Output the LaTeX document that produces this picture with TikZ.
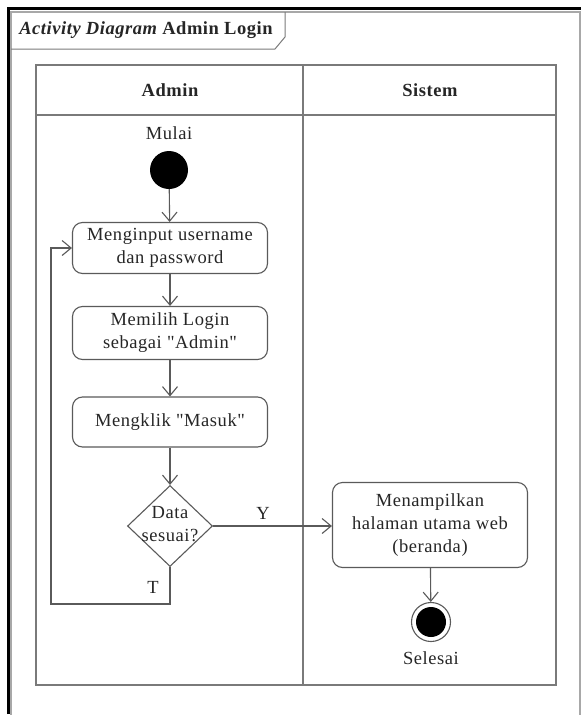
\documentclass[tikz,border=0pt]{standalone}
\usepackage{fontspec}
\setmainfont{Liberation Serif}[Ligatures=TeXOff, LetterSpace=3]
\usetikzlibrary{arrows.meta,shapes.geometric,calc}
\definecolor{linegray}{HTML}{5A5A5A}
\definecolor{lanegray}{HTML}{7A7A7A}
\definecolor{framegray}{HTML}{A8A8A8}
\tikzset{
  x=1pt, y=-1pt,
  every node/.style={font=\fontsize{18.5}{23}\selectfont, text=black!85},
  actbox/.style={draw=linegray, line width=1.1pt, rounded corners=10pt, fill=white,
    minimum width=195pt, align=center, inner sep=2pt},
  flow/.style={draw=linegray, line width=1.1pt, -{Straight Barb[length=9pt,width=15pt]}},
  lbl/.style={inner sep=0pt}
}
\begin{document}
\begin{tikzpicture}
\useasboundingbox (0,0) rectangle (581,715);
\fill[white] (0,0) rectangle (581,715);

% outer page border
\draw[black, line width=3pt] (8,714) -- (8,8) -- (581,8);
% diagram frame
\draw[framegray, line width=1.2pt] (11,715) -- (11,12) -- (580,12) -- (580,715);
% frame title tab
\draw[lanegray, line width=1pt] (11,49) -- (275,49) -- (285,37) -- (285,12);
\node[lbl] (title) at (146,30) {\bfseries\itshape Activity Diagram \upshape Admin Login};

% swimlanes
\draw[lanegray, line width=1.3pt] (36,65) rectangle (556,685);
\draw[lanegray, line width=1.3pt] (36,115) -- (556,115);
\draw[lanegray, line width=1.3pt] (303,65) -- (303,685);
\node[lbl] (laneA) at (170,90) {\bfseries Admin};
\node[lbl] (laneS) at (430,90) {\bfseries Sistem};

% start
\node[lbl] (mulai) at (169,133) {Mulai};
\node[circle, fill=black, minimum size=38pt, inner sep=0pt] (start) at (169,170) {};

% activities
\node[actbox, minimum height=51pt] (a1) at (170,248) {Menginput username\\dan password};
\node[actbox, minimum height=53pt] (a2) at (170,333) {Memilih Login\\sebagai "Admin"};
\node[actbox, minimum height=50pt] (a3) at (170,422) {Mengklik "Masuk"};

% decision
\node[diamond, draw=linegray, line width=1.1pt, minimum width=85pt, minimum height=81pt, inner sep=0pt] (dec) at (170,526) {};
\node[lbl, align=center] (dectext) at (170,524) {Data\\sesuai?};

% system activity
\node[actbox, minimum height=85pt] (a4) at (430,525) {Menampilkan\\halaman utama web\\(beranda)};

% end
\node[circle, draw=linegray, line width=1.1pt, minimum size=39pt, inner sep=0pt] (end) at (431,622) {};
\node[circle, fill=black, minimum size=30pt, inner sep=0pt] (endin) at (end.center) {};
\node[lbl] (selesai) at (431,658) {Selesai};

% flows
\draw[flow] (start) -- (a1);
\draw[flow] (a1) -- (a2);
\draw[flow] (a2) -- (a3);
\draw[flow] (a3) -- (dec.north);
\draw[flow] (dec.east) -- (dec.east -| a4.west);
\coordinate (loopA) at (170,604);
\coordinate (loopB) at (51,604);
\draw[flow] (dec.south) -- (loopA) -- (loopB) |- (a1.west);
\draw[flow] (a4) -- (end);

% guards
\node[lbl] (yes) at (263,513) {Y};
\node[lbl] (no) at (153,587) {T};
\end{tikzpicture}
\end{document}
